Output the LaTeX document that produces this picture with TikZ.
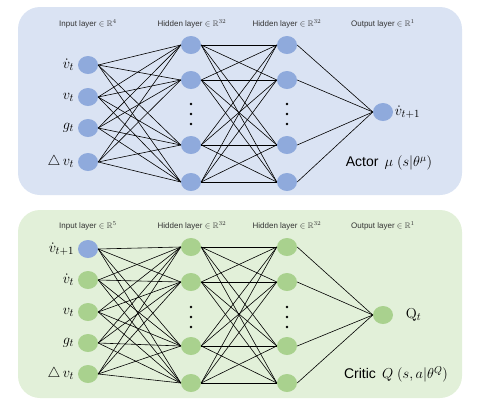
\documentclass[tikz,border=0pt]{standalone}
\usepackage{amsmath}
\usepackage{amssymb}
\usepackage[no-math]{fontspec}
\setmainfont{Liberation Sans}
\usetikzlibrary{shapes.geometric, positioning}
\definecolor{fondoactor}{HTML}{DAE3F3}
\definecolor{neuronaazul}{HTML}{8FAADC}
\definecolor{fondocritic}{HTML}{E2F0D9}
\definecolor{neuronaverde}{HTML}{A9D18E}

\begin{document}
\begin{tikzpicture}[
        x=1pt, y=-1pt,
        panel/.style={
            rounded corners=22pt,
            draw=none
        },
        neurona/.style={
            ellipse,
            minimum width=20pt,
            minimum height=18pt,
            inner sep=0pt
        },
        capa/.style={
            font=\fontsize{8}{9}\selectfont,
            text=black!80
        },
        entrada/.style={
            font=\fontsize{15}{16}\selectfont,
            inner sep=0.5pt
        },
        titulo/.style={
            font=\fontsize{14}{16}\selectfont
        },
        conexion/.style={
            line width=0.6pt
        },
        punto/.style={
            fill=black
        }
    ]

    \useasboundingbox (0,0) rectangle (485,407);

    % paneles
    \fill[panel, fondoactor] (18,7) rectangle (462,195);
    \fill[panel, fondocritic] (18,210) rectangle (462,398);

    % ---------------- Actor ----------------
    \node[capa] (acapa1) at (88,24) {Input layer $\in\mathbb{R}^4$};
    \node[capa] (acapa2) at (192,24) {Hidden layer $\in\mathbb{R}^{32}$};
    \node[capa] (acapa3) at (287,24) {Hidden layer $\in\mathbb{R}^{32}$};
    \node[capa] (acapa4) at (383,24) {Output layer $\in\mathbb{R}^1$};

    \foreach \i/\y in {1/65, 2/97, 3/128, 4/162}
        \node[neurona, fill=neuronaazul] (ain\i) at (88,\y) {};
    \foreach \j/\y in {1/45, 2/80, 3/145, 4/182} {
        \node[neurona, fill=neuronaazul] (aha\j) at (191,\y) {};
        \node[neurona, fill=neuronaazul] (ahb\j) at (287,\y) {};
    }
    \node[neurona, fill=neuronaazul] (aout) at (383,112) {};

    \foreach \x in {191, 287}
        \foreach \y in {104, 114, 124}
            \fill[punto] (\x,\y) circle (1.3);

    \node[entrada, left=3pt of ain1] {$\dot{v}_t$};
    \node[entrada, left=3pt of ain2] {$v_t$};
    \node[entrada, left=3pt of ain3] {$g_t$};
    \node[entrada, left=3pt of ain4] {$\triangle\, v_t$};
    \node[entrada, right=1pt of aout] {$\dot{v}_{t+1}$};

    \foreach \i in {1,...,4}
        \foreach \j in {1,...,4}
            \draw[conexion] (ain\i.east) -- (aha\j.west);
    \foreach \i in {1,...,4}
        \foreach \j in {1,...,4}
            \draw[conexion] (aha\i.east) -- (ahb\j.west);
    \foreach \i in {1,...,4}
        \draw[conexion] (ahb\i.east) -- (aout.west);

    \node[titulo] (actor) at (389,163) {Actor\, $\mu\ (s|\theta^{\mu})$};

    % ---------------- Critic ----------------
    \node[capa] (ccapa1) at (88,226) {Input layer $\in\mathbb{R}^5$};
    \node[capa] (ccapa2) at (192,226) {Hidden layer $\in\mathbb{R}^{32}$};
    \node[capa] (ccapa3) at (287,226) {Hidden layer $\in\mathbb{R}^{32}$};
    \node[capa] (ccapa4) at (383,226) {Output layer $\in\mathbb{R}^1$};

    \node[neurona, fill=neuronaazul] (cin1) at (88,249) {};
    \foreach \i/\y in {2/280, 3/312, 4/343, 5/374}
        \node[neurona, fill=neuronaverde] (cin\i) at (88,\y) {};
    \foreach \j/\y in {1/247, 2/282, 3/346, 4/383} {
        \node[neurona, fill=neuronaverde] (cha\j) at (191,\y) {};
        \node[neurona, fill=neuronaverde] (chb\j) at (287,\y) {};
    }
    \node[neurona, fill=neuronaverde] (cout) at (383,315) {};

    \foreach \x in {191, 287}
        \foreach \y in {307, 317, 327}
            \fill[punto] (\x,\y) circle (1.3);

    \node[entrada, left=3pt of cin1] {$\dot{v}_{t+1}$};
    \node[entrada, left=3pt of cin2] {$\dot{v}_t$};
    \node[entrada, left=3pt of cin3] {$v_t$};
    \node[entrada, left=3pt of cin4] {$g_t$};
    \node[entrada, left=3pt of cin5] {$\triangle\, v_t$};
    \node[entrada, right=12pt of cout] {$\mathrm{Q}_t$};

    \foreach \i in {1,...,5}
        \foreach \j in {1,...,4}
            \draw[conexion] (cin\i.east) -- (cha\j.west);
    \foreach \i in {1,...,4}
        \foreach \j in {1,...,4}
            \draw[conexion] (cha\i.east) -- (chb\j.west);
    \foreach \i in {1,...,4}
        \draw[conexion] (chb\i.east) -- (cout.west);

    \node[titulo] (critic) at (396,374) {Critic\, $Q\ (s,a|\theta^{Q})$};

\end{tikzpicture}
\end{document}
